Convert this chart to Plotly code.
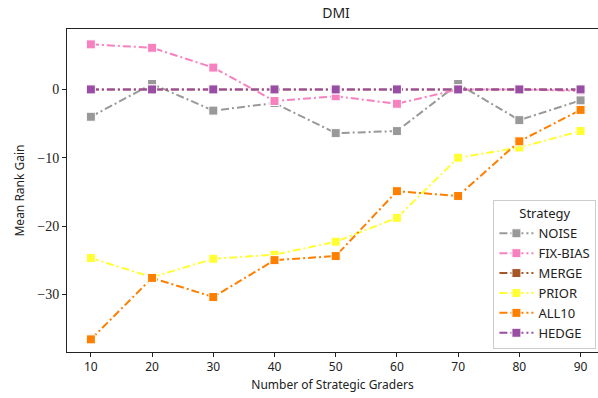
import plotly.graph_objects as go

graders = [10, 20, 30, 40, 50, 60, 70, 80, 90]

noise = [-4.0, 0.8, -3.1, -2.0, -6.4, -6.1, 0.8, -4.5, -1.6]
fix_bias = [6.6, 6.1, 3.2, -1.7, -1.0, -2.1, 0.0, 0.0, -0.2]
merge = [0.0, 0.0, 0.0, 0.0, 0.0, 0.0, 0.0, 0.0, 0.0]
prior = [-24.7, -27.5, -24.8, -24.2, -22.3, -18.8, -10.0, -8.5, -6.1]
all10 = [-36.6, -27.6, -30.4, -25.0, -24.4, -14.9, -15.6, -7.6, -3.0]
hedge = [0.0, 0.0, 0.0, 0.0, 0.0, 0.0, 0.0, 0.0, 0.0]

series = [
    ("NOISE", noise, "#999999"),
    ("FIX-BIAS", fix_bias, "#f781bf"),
    ("MERGE", merge, "#a65628"),
    ("PRIOR", prior, "#ffff33"),
    ("ALL10", all10, "#ff7f00"),
    ("HEDGE", hedge, "#984ea3"),
]

y_ticks = [0, -10, -20, -30]
y_tick_labels = ["0", "\u221210", "\u221220", "\u221230"]

SANS = "Noto Sans"
SERIF = "Liberation Serif"

fig = go.Figure()
for name, vals, color in series:
    fig.add_trace(go.Scatter(
        x=graders, y=vals, name=name, mode="lines+markers",
        line=dict(color=color, width=2, dash="8px,3px,2px,3px"),
        marker=dict(symbol="square", size=9, color=color,
                    line=dict(color="white", width=1)),
    ))

W, H = 598, 398
L, R, T, B = 67, 0, 29, 46

fig.update_layout(
    width=W, height=H,
    margin=dict(l=L, r=R, t=T, b=B),
    paper_bgcolor="white", plot_bgcolor="white",
    font=dict(family=SANS, size=12, color="#222"),
    title=dict(text="DMI", x=336 / W, xref="container", xanchor="center",
               y=1 - 13 / H, yref="container", yanchor="middle",
               font=dict(family=SANS, size=14, color="#222")),
    showlegend=True,
    legend=dict(
        title=dict(text="Strategy", side="top center",
                   font=dict(family=SANS, size=13, color="#222")),
        x=0.997, xanchor="right", y=0.008, yanchor="bottom",
        bgcolor="rgba(255,255,255,0.85)", bordercolor="#cccccc", borderwidth=1,
        font=dict(family=SANS, size=13, color="#222"),
        itemwidth=34, tracegroupgap=0,
    ),
)

fig.update_xaxes(
    range=[6.1, 92.85],
    tickvals=graders, ticktext=[str(g) for g in graders],
    showgrid=False, zeroline=False,
    showline=True, linecolor="#222", linewidth=1, mirror=True,
    ticks="outside", ticklen=4, tickcolor="#222",
    tickfont=dict(family=SANS, size=12, color="#222"),
    title=dict(text="Number of Strategic Graders", standoff=6,
               font=dict(family=SANS, size=12, color="#222")),
)
fig.update_yaxes(
    range=[-38.45, 8.85],
    tickvals=y_ticks, ticktext=y_tick_labels,
    showgrid=False, zeroline=False,
    showline=True, linecolor="#222", linewidth=1, mirror=False,
    ticks="outside", ticklen=4, tickcolor="#222",
    tickfont=dict(family=SERIF, size=14, color="#222"),
    title=dict(text="Mean Rank Gain", standoff=10,
               font=dict(family=SANS, size=12, color="#222")),
)

fig.write_html("out.html")
